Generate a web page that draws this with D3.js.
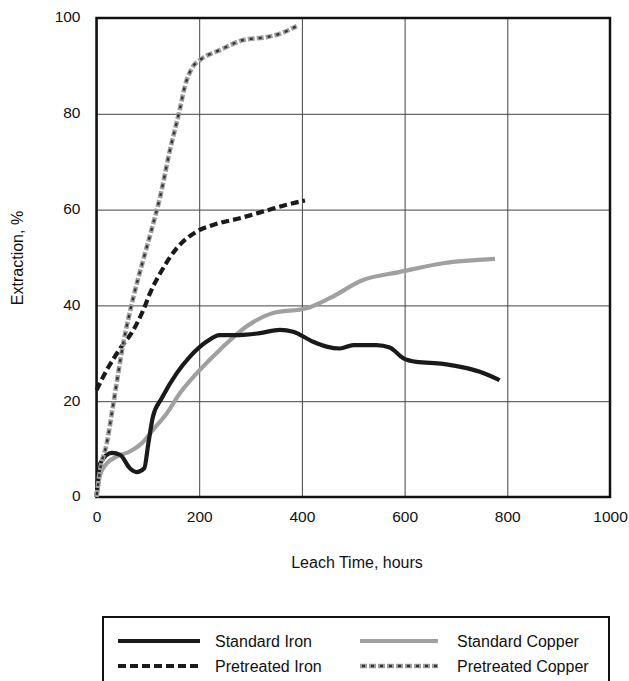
<!DOCTYPE html>
<html>
<head>
<meta charset="utf-8">
<script src="https://cdn.jsdelivr.net/npm/d3@7/dist/d3.min.js"></script>
<style>
  html, body { margin: 0; padding: 0; background: #fff; }
  svg { display: block; font-family: "Liberation Sans", Arial, sans-serif; }
</style>
</head>
<body>
<svg id="chart" width="629" height="681"></svg>
<script>
// Leach time (hours) and extraction (%) for each series
const stdIronHours = [0, 7, 30, 46, 65, 78, 93, 101, 110, 127, 156, 182, 214, 240, 279, 318, 357, 383, 422, 448, 474, 500, 545, 571, 597, 623, 675, 721, 753, 785];
const stdIronPct   = [0, 7, 9.2, 8.8, 6, 5.2, 6, 11.2, 16.8, 20.6, 25.8, 29.3, 32.4, 33.8, 33.8, 34.2, 34.9, 34.5, 32.4, 31.4, 31, 31.7, 31.7, 31.2, 29, 28.2, 27.8, 26.9, 25.9, 24.4];

const stdCopperHours = [0, 7, 20, 39, 65, 88, 110, 137, 162, 195, 240, 292, 344, 409, 454, 519, 591, 675, 776];
const stdCopperPct   = [0, 4.6, 7, 8.4, 9.5, 11.2, 14, 17.5, 21.6, 25.8, 30.7, 35.6, 38.4, 39.4, 41.5, 45.3, 47, 48.8, 49.7];

const preIronHours = [0, 20, 46, 72, 91, 104, 124, 156, 195, 227, 279, 331, 370, 406];
const preIronPct   = [22.3, 26.5, 31, 34.9, 39, 42.5, 46.7, 51.9, 55.4, 56.8, 58.2, 59.8, 61, 61.9];

const preCopperHours = [0, 7, 20, 33, 52, 72, 91, 107, 124, 143, 162, 172, 188, 201, 240, 286, 331, 351, 390];
const preCopperPct   = [0, 5.6, 11.2, 19.6, 32, 41.8, 49.5, 55.7, 62.7, 72.4, 80.8, 85.7, 89.9, 91.2, 93.3, 95.4, 96, 96.5, 98.3];

const xTicks = [0, 200, 400, 600, 800, 1000];
const yTicks = [0, 20, 40, 60, 80, 100];

const legendLabels = ["Standard Iron", "Pretreated Iron", "Standard Copper", "Pretreated Copper"];

const svg = d3.select("#chart");
const x = d3.scaleLinear().domain([0, 1000]).range([96.5, 610]);
const y = d3.scaleLinear().domain([0, 100]).range([497, 18]);
const fmt = d3.format("d");

// gridlines
svg.append("g")
  .attr("transform", `translate(0,${y(0)})`)
  .call(d3.axisBottom(x).tickValues(xTicks).tickSize(-(y(0) - y(100))).tickFormat(""))
  .call(g => g.select(".domain").remove())
  .call(g => g.selectAll("line").attr("stroke", "#444").attr("stroke-width", 1));
svg.append("g")
  .attr("transform", `translate(${x(0)},0)`)
  .call(d3.axisLeft(y).tickValues(yTicks).tickSize(-(x(1000) - x(0))).tickFormat(""))
  .call(g => g.select(".domain").remove())
  .call(g => g.selectAll("line").attr("stroke", "#444").attr("stroke-width", 1));

// tick labels
svg.append("g")
  .attr("transform", `translate(0,${y(0)})`)
  .call(d3.axisBottom(x).tickValues(xTicks).tickFormat(fmt).tickSize(0).tickPadding(14))
  .call(g => g.select(".domain").remove())
  .call(g => g.selectAll("text").attr("font-size", 15.5).attr("fill", "#111").attr("font-family", "Liberation Sans, Arial, sans-serif"));
svg.append("g")
  .attr("transform", `translate(${x(0)},0)`)
  .call(d3.axisLeft(y).tickValues(yTicks).tickFormat(fmt).tickSize(0).tickPadding(16))
  .call(g => g.select(".domain").remove())
  .call(g => g.selectAll("text").attr("font-size", 15.5).attr("fill", "#111").attr("dy", "0.25em").attr("font-family", "Liberation Sans, Arial, sans-serif"));

// frame
svg.append("rect")
  .attr("x", x(0)).attr("y", y(100))
  .attr("width", x(1000) - x(0)).attr("height", y(0) - y(100))
  .attr("fill", "none").attr("stroke", "#111").attr("stroke-width", 2.5);

// axis titles
svg.append("text")
  .attr("x", 357).attr("y", 568)
  .attr("text-anchor", "middle").attr("font-size", 16).attr("fill", "#111")
  .text("Leach Time, hours");
svg.append("text")
  .attr("transform", "translate(23,258) rotate(-90)")
  .attr("text-anchor", "middle").attr("font-size", 16).attr("fill", "#111")
  .text("Extraction, %");

const line = d3.line().x(d => x(d[0])).y(d => y(d[1])).curve(d3.curveMonotoneX);
const zipPts = (hs, ps) => hs.map((h, i) => [h, ps[i]]);

const styles = {
  stdIron:   [{ stroke: "#1a1a1a", width: 4.2, dash: null }],
  stdCopper: [{ stroke: "#a0a0a0", width: 4.2, dash: null }],
  preIron:   [{ stroke: "#1a1a1a", width: 4.2, dash: "8,4" }],
  preCopper: [{ stroke: "#9e9e9e", width: 4.6, dash: "7,2" },
              { stroke: "#333333", width: 2.4, dash: "3,6", offset: -2 }]
};

function drawSeries(pts, layers) {
  layers.forEach(s => {
    const p = svg.append("path")
      .attr("d", line(pts))
      .attr("fill", "none")
      .attr("stroke", s.stroke)
      .attr("stroke-width", s.width)
      .attr("stroke-linejoin", "round");
    if (s.dash) p.attr("stroke-dasharray", s.dash);
    if (s.offset) p.attr("stroke-dashoffset", s.offset);
  });
}

drawSeries(zipPts(stdCopperHours, stdCopperPct), styles.stdCopper);
drawSeries(zipPts(stdIronHours, stdIronPct), styles.stdIron);
drawSeries(zipPts(preIronHours, preIronPct), styles.preIron);
drawSeries(zipPts(preCopperHours, preCopperPct), styles.preCopper);

// legend
svg.append("rect")
  .attr("x", 103).attr("y", 617).attr("width", 506).attr("height", 80)
  .attr("fill", "none").attr("stroke", "#111").attr("stroke-width", 2);

const legendItems = [
  { label: legendLabels[0], style: styles.stdIron,   x1: 118, x2: 200, ty: 641 },
  { label: legendLabels[1], style: styles.preIron,   x1: 118, x2: 200, ty: 666 },
  { label: legendLabels[2], style: styles.stdCopper, x1: 360, x2: 438, ty: 641 },
  { label: legendLabels[3], style: styles.preCopper, x1: 360, x2: 438, ty: 666 }
];
legendItems.forEach(it => {
  it.style.forEach(s => {
    const l = svg.append("line")
      .attr("x1", it.x1).attr("x2", it.x2).attr("y1", it.ty).attr("y2", it.ty)
      .attr("stroke", s.stroke).attr("stroke-width", s.width);
    if (s.dash) l.attr("stroke-dasharray", s.dash);
    if (s.offset) l.attr("stroke-dashoffset", s.offset);
  });
  svg.append("text")
    .attr("x", it.x2 + (it.x1 < 300 ? 15 : 19)).attr("y", it.ty + 5.5)
    .attr("font-size", 16).attr("fill", "#111")
    .text(it.label);
});
</script>
</body>
</html>
